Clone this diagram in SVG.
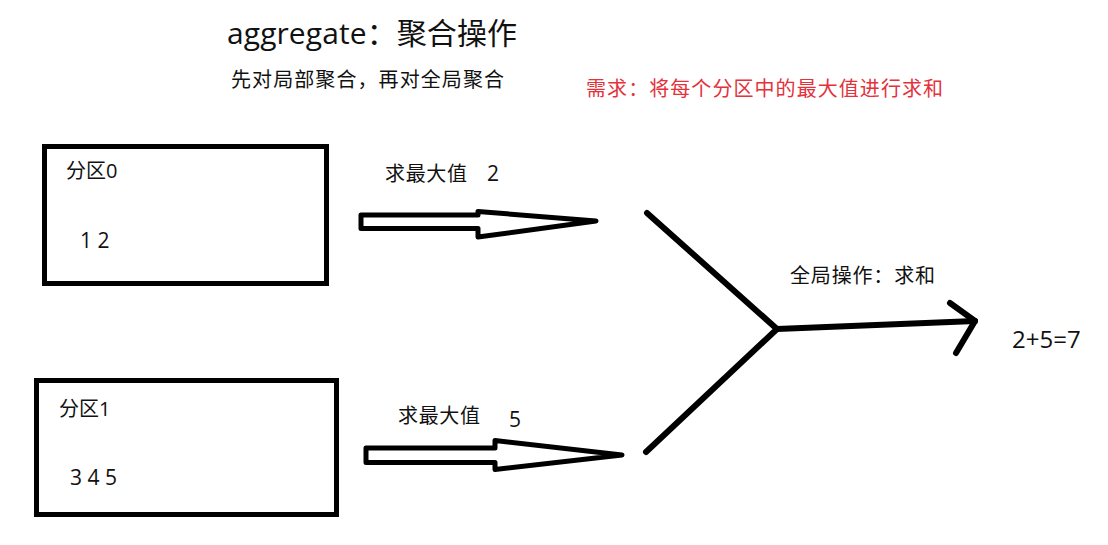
<svg xmlns="http://www.w3.org/2000/svg" width="1108" height="545" viewBox="0 0 1108 545">
<style>
.t{font-family:"Open Sans","Noto Sans CJK SC",sans-serif;fill:#111}
.box{fill:#fff;stroke:#000;stroke-width:5}
.harrow{fill:#fff;stroke:#000;stroke-width:5;stroke-linejoin:round}
.ln{fill:none;stroke:#000;stroke-width:6;stroke-linecap:round;stroke-linejoin:round}
</style>
<rect width="1108" height="545" fill="#fff"/>
<g id="title">
<text class="t" x="227" y="44" font-size="30" textLength="290">aggregate：聚合操作</text>
</g>
<g id="subtitle">
<text class="t" x="231" y="87" font-size="20" textLength="273">先对局部聚合，再对全局聚合</text>
</g>
<g id="requirement">
<text class="t" x="586" y="96" font-size="20" style="fill:#e3323c" textLength="357">需求：将每个分区中的最大值进行求和</text>
</g>
<g id="partition0">
<rect class="box" x="44.5" y="146.5" width="282" height="137"/>
<text class="t" x="66" y="178" font-size="20">分区0</text>
<text class="t" x="80" y="248" font-size="21">1 2</text>
</g>
<g id="partition1">
<rect class="box" x="36.5" y="380.5" width="300" height="134"/>
<text class="t" x="59" y="416" font-size="20">分区1</text>
<text class="t" x="70" y="485" font-size="21">3 4 5</text>
</g>
<g id="result">
<text class="t" x="1012" y="348" font-size="24">2+5=7</text>
</g>
<g id="connectors">
<polygon class="harrow" points="361,215 478,215 478,211.5 596,221 478,237 478,228.5 361,228.5"/>
<text class="t" x="385" y="181" font-size="20" textLength="82">求最大值</text>
<text class="t" x="487" y="181" font-size="21">2</text>
<polygon class="harrow" points="366,448 495,448 495,440.5 622,455 495,469.5 495,462.5 366,462.5"/>
<text class="t" x="398" y="423" font-size="20" textLength="82">求最大值</text>
<text class="t" x="509" y="427" font-size="21">5</text>
<polyline class="ln" points="647,213 777,329 646,452"/>
<line class="ln" x1="777" y1="329" x2="975" y2="321"/>
<polyline class="ln" points="950,303 975,321 956,353"/>
<text class="t" x="790" y="283" font-size="20" textLength="145">全局操作：求和</text>
</g>
</svg>
